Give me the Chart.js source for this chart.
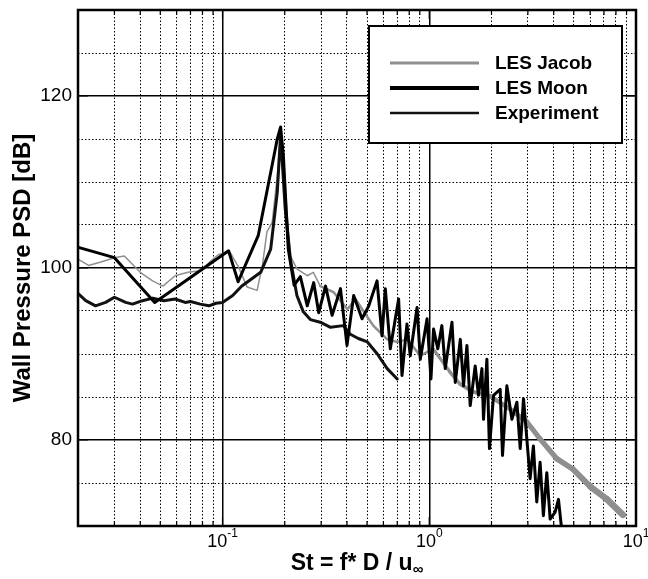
<!DOCTYPE html>
<html>
<head>
<meta charset="utf-8">
<script src="https://cdn.jsdelivr.net/npm/chart.js@4.4.0/dist/chart.umd.min.js"></script>
<style>
  html, body { margin: 0; padding: 0; background: #fff; }
  #wrap { width: 648px; height: 579px; position: relative; }
</style>
</head>
<body>
<div id="wrap"><canvas id="psdChart"></canvas></div>
<script>
// values (St, dB)
const jacobSt = [0.0201, 0.0225, 0.0258, 0.030, 0.0335, 0.040, 0.0459, 0.0515, 0.059, 0.068, 0.0798, 0.0866, 0.096, 0.109, 0.119, 0.1315, 0.147, 0.156, 0.164, 0.174, 0.184, 0.191, 0.197, 0.213, 0.229, 0.257, 0.275, 0.297, 0.344, 0.402, 0.44, 0.48, 0.536, 0.626, 0.70, 0.783, 0.905, 1.045, 1.26, 1.41, 1.63, 1.97, 2.46, 2.97, 3.44, 4.15, 4.96, 6.0, 7.24, 8.65];
const jacobDb = [101.0, 100.3, 100.7, 101.2, 101.4, 99.5, 98.5, 97.9, 99.1, 99.5, 99.7, 100.7, 101.6, 101.8, 100.2, 97.8, 97.4, 100.3, 104.2, 105.3, 110.7, 115.5, 112.0, 101.4, 99.9, 99.1, 99.5, 97.9, 97.2, 95.2, 96.4, 95.0, 93.3, 91.7, 91.4, 91.7, 89.8, 90.6, 87.9, 86.5, 85.6, 85.1, 83.6, 82.1, 80.1, 77.8, 76.6, 74.6, 73.1, 71.3];

const moonSt = [0.0201, 0.030, 0.047, 0.107, 0.119, 0.149, 0.184, 0.191, 0.197, 0.208, 0.222, 0.238, 0.257, 0.276, 0.292, 0.315, 0.339, 0.372, 0.400, 0.431, 0.473, 0.510, 0.559, 0.591, 0.613, 0.648, 0.711, 0.738, 0.780, 0.809, 0.873, 0.905, 0.976, 1.019, 1.049, 1.10, 1.151, 1.195, 1.288, 1.336, 1.413, 1.465, 1.521, 1.578, 1.668, 1.730, 1.798, 1.830, 1.900, 1.955, 2.046, 2.203, 2.261, 2.373, 2.510, 2.654, 2.754, 2.857, 3.075, 3.190, 3.312, 3.436, 3.565, 3.703, 3.844, 4.064, 4.217, 4.375];
const moonDb = [102.4, 101.2, 96.0, 102.0, 98.4, 103.8, 115.0, 116.4, 113.0, 102.2, 98.0, 99.0, 95.6, 98.3, 94.8, 97.9, 94.5, 97.6, 91.0, 96.8, 94.1, 95.6, 98.5, 92.1, 97.6, 90.6, 96.4, 87.5, 93.5, 89.8, 95.4, 89.4, 94.1, 87.1, 92.9, 90.6, 93.3, 88.3, 93.7, 86.7, 91.7, 86.3, 91.0, 84.0, 88.6, 85.2, 88.3, 82.4, 89.4, 79.0, 85.2, 85.9, 78.2, 86.3, 82.4, 84.4, 79.0, 84.8, 75.5, 79.3, 72.8, 77.4, 71.2, 76.2, 70.8, 71.6, 73.1, 69.5];

const expSt = [0.0201, 0.0218, 0.0243, 0.0272, 0.030, 0.034, 0.0367, 0.041, 0.046, 0.052, 0.059, 0.066, 0.070, 0.078, 0.086, 0.093, 0.100, 0.112, 0.124, 0.136, 0.153, 0.171, 0.184, 0.191, 0.201, 0.213, 0.229, 0.246, 0.266, 0.297, 0.333, 0.384, 0.415, 0.454, 0.502, 0.561, 0.626, 0.70];
const expDb = [97.0, 96.2, 95.6, 96.0, 96.6, 96.0, 95.8, 96.2, 96.5, 96.2, 96.4, 96.0, 96.1, 95.8, 95.6, 95.9, 96.0, 96.8, 97.9, 98.6, 99.5, 102.2, 108.8, 115.5, 106.9, 101.0, 96.8, 94.9, 94.0, 93.7, 93.1, 93.3, 92.3, 91.8, 91.4, 90.0, 88.3, 87.1];

const seriesNames = ['LES Jacob', 'LES Moon', 'Experiment'];
const xTickExponents = [-1, 0, 1];
const xMinorSteps = [1, 2, 3, 4, 5, 6, 7, 8, 9];
const yLabelled = [80, 100, 120];

const FONT = '"Liberation Sans", Arial, Helvetica, sans-serif';
Chart.defaults.font.family = FONT;
Chart.defaults.color = '#000';

function pts(xs, ys) {
    return xs.map((v, i) => ({ x: v, y: ys[i] }));
}

function isDecade(v) {
    const l = Math.log10(v);
    return Math.abs(l - Math.round(l)) < 1e-6;
}

function jacobWidth(ctx) {
    const st = jacobSt[ctx.p1DataIndex];
    if (st < 0.3) return 1.5;
    if (st < 1.1) return 2.5;
    return Math.min(7, 3 + 4 * Math.log10(st / 1.1));
}

// frame, inside ticks, x tick labels, x title and legend
const decor = {
    id: 'decor',
    afterDraw(chart) {
        const { ctx, chartArea: a, scales } = chart;
        const x = scales.x, y = scales.y;
        ctx.save();

        ctx.strokeStyle = '#000';
        ctx.lineWidth = 1.2;
        ctx.beginPath();
        x.ticks.forEach(t => {
            const px = x.getPixelForValue(t.value);
            const len = isDecade(t.value) ? 9 : 5;
            ctx.moveTo(px, a.bottom); ctx.lineTo(px, a.bottom - len);
            ctx.moveTo(px, a.top); ctx.lineTo(px, a.top + len);
        });
        yLabelled.forEach(v => {
            const py = y.getPixelForValue(v);
            ctx.moveTo(a.left, py); ctx.lineTo(a.left + 10, py);
            ctx.moveTo(a.right, py); ctx.lineTo(a.right - 10, py);
        });
        ctx.stroke();

        ctx.lineWidth = 2.5;
        ctx.strokeRect(a.left, a.top, a.right - a.left, a.bottom - a.top);

        // x tick labels 10^n
        ctx.fillStyle = '#000';
        ctx.textBaseline = 'alphabetic';
        ctx.textAlign = 'left';
        xTickExponents.forEach(e => {
            const px = x.getPixelForValue(Math.pow(10, e));
            ctx.font = '18px ' + FONT;
            const wBase = ctx.measureText('10').width;
            ctx.font = '12px ' + FONT;
            const expText = String(e);
            const wExp = ctx.measureText(expText).width;
            const start = px - (wBase + wExp) / 2;
            ctx.font = '18px ' + FONT;
            ctx.fillText('10', start, a.bottom + 21);
            ctx.font = '12px ' + FONT;
            ctx.fillText(expText, start + wBase, a.bottom + 11);
        });

        // x title with subscript
        const main = 'St = f* D / u';
        ctx.font = 'bold 23px ' + FONT;
        const wMain = ctx.measureText(main).width;
        ctx.font = 'bold 15px ' + FONT;
        const wSub = ctx.measureText('\u221e').width;
        const cx = (a.left + a.right) / 2;
        const sx = cx - (wMain + wSub) / 2;
        ctx.font = 'bold 23px ' + FONT;
        ctx.fillText(main, sx, a.bottom + 44);
        ctx.font = 'bold 15px ' + FONT;
        ctx.fillText('\u221e', sx + wMain, a.bottom + 48);

        // legend
        const bx = a.right - 267, by = a.top + 16, bw = 253, bh = 117;
        ctx.fillStyle = '#fff';
        ctx.fillRect(bx, by, bw, bh);
        ctx.lineWidth = 2;
        ctx.strokeStyle = '#000';
        ctx.strokeRect(bx, by, bw, bh);
        ctx.font = 'bold 19px ' + FONT;
        ctx.textBaseline = 'middle';
        chart.data.datasets.forEach((ds, i) => {
            const ly = by + 37 + i * 25;
            ctx.strokeStyle = ds.borderColor;
            ctx.lineWidth = ds.legendWidth;
            ctx.beginPath();
            ctx.moveTo(bx + 21, ly);
            ctx.lineTo(bx + 110, ly);
            ctx.stroke();
            ctx.fillStyle = '#000';
            ctx.fillText(ds.label, bx + 126, ly + 1);
        });

        ctx.restore();
    }
};

function zeroPad(scale) {
    scale.paddingTop = 0;
    scale.paddingBottom = 0;
    scale.paddingLeft = 0;
    scale.paddingRight = 0;
}

const dashFor = ctx => (ctx.tick && !ctx.tick.major) ? [1.5, 2] : [];

new Chart(document.getElementById('psdChart'), {
    type: 'line',
    data: {
        datasets: [
            {
                label: seriesNames[0],
                data: pts(jacobSt, jacobDb),
                borderColor: '#8f8f8f',
                borderWidth: 1.5,
                legendWidth: 3,
                segment: { borderWidth: jacobWidth },
                order: 3
            },
            {
                label: seriesNames[1],
                data: pts(moonSt, moonDb),
                borderColor: '#000',
                borderWidth: 3,
                legendWidth: 4,
                order: 1
            },
            {
                label: seriesNames[2],
                data: pts(expSt, expDb),
                borderColor: '#111',
                borderWidth: 3,
                legendWidth: 2.6,
                order: 2
            }
        ]
    },
    options: {
        responsive: true,
        maintainAspectRatio: false,
        animation: false,
        devicePixelRatio: 1,
        layout: { padding: { top: 10, right: 12, left: 0, bottom: 0 } },
        elements: {
            point: { radius: 0, hoverRadius: 0 },
            line: { tension: 0, borderJoinStyle: 'round', borderCapStyle: 'round' }
        },
        plugins: {
            legend: { display: false },
            tooltip: { enabled: false }
        },
        scales: {
            x: {
                type: 'logarithmic',
                min: 0.02,
                max: 10,
                afterBuildTicks: scale => {
                    const ticks = [];
                    [-2, -1, 0, 1].forEach(e => {
                        xMinorSteps.forEach(m => {
                            const v = m * Math.pow(10, e);
                            if (v >= 0.02 - 1e-9 && v <= 10 + 1e-9) ticks.push({ value: v, major: isDecade(v) });
                        });
                    });
                    scale.ticks = ticks;
                },
                afterFit: scale => { scale.height = 53; zeroPad(scale); },
                ticks: { display: false, autoSkip: false },
                grid: {
                    color: '#000',
                    lineWidth: ctx => (ctx.tick && ctx.tick.major) ? 1.5 : 1,
                    drawTicks: false
                },
                border: { display: false, dash: dashFor }
            },
            y: {
                min: 70,
                max: 130,
                afterBuildTicks: scale => {
                    scale.ticks.forEach(t => { t.major = yLabelled.includes(t.value); });
                },
                afterFit: scale => { scale.width = 78; zeroPad(scale); },
                ticks: {
                    stepSize: 5,
                    autoSkip: false,
                    padding: 6,
                    color: '#000',
                    font: { size: 19 },
                    callback: v => yLabelled.includes(v) ? String(v) : ''
                },
                grid: {
                    color: '#000',
                    lineWidth: ctx => (ctx.tick && ctx.tick.major) ? 1.5 : 1,
                    drawTicks: false
                },
                border: { display: false, dash: dashFor },
                title: {
                    display: true,
                    text: 'Wall Pressure PSD [dB]',
                    color: '#000',
                    font: { size: 24, weight: 'bold' },
                    padding: { top: 9, bottom: 0 }
                }
            }
        }
    },
    plugins: [decor]
});
</script>
</body>
</html>
